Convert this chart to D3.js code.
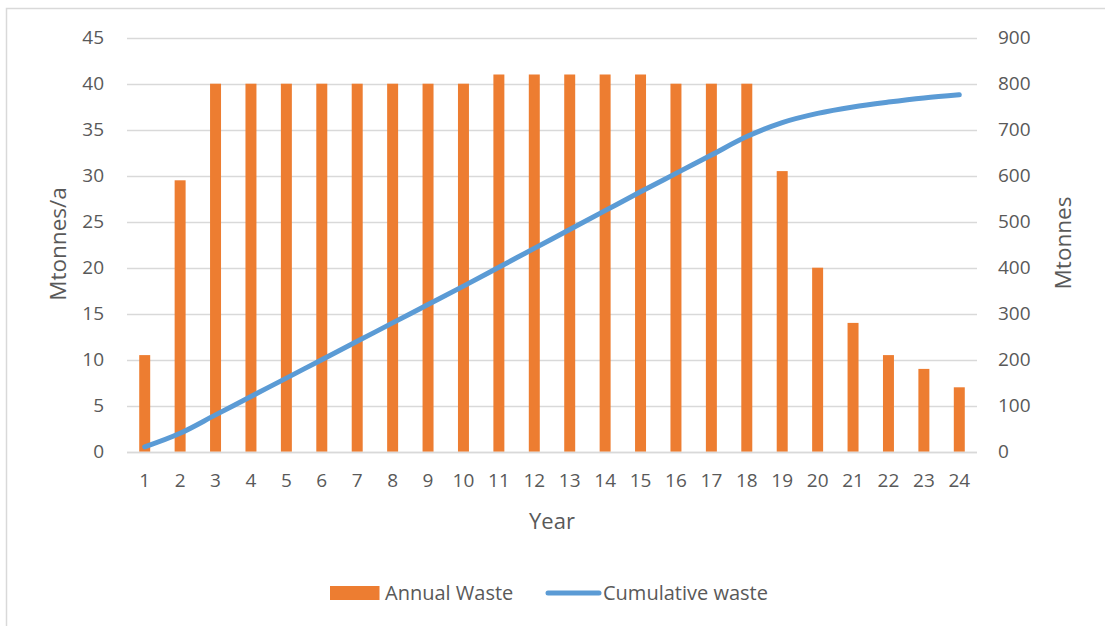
<!DOCTYPE html>
<html>
<head>
<meta charset="utf-8">
<script src="https://cdn.jsdelivr.net/npm/d3@7"></script>
<style>
  html, body { margin: 0; padding: 0; background: #fff; }
  svg { display: block; font-family: "Open Sans", "Noto Sans", sans-serif; }
</style>
</head>
<body>
<svg id="chart" width="1105" height="626"></svg>
<script>
// Waste production by mine year
const years = ["1","2","3","4","5","6","7","8","9","10","11","12","13","14","15","16","17","18","19","20","21","22","23","24"];
const annualWaste = [10.5, 29.5, 40, 40, 40, 40, 40, 40, 40, 40, 41, 41, 41, 41, 41, 40, 40, 40, 30.5, 20, 14, 10.5, 9, 7];
const cumulativeWaste = [10.5, 40, 80, 120, 160, 200, 240, 280, 320, 360, 401, 442, 483, 524, 565, 605, 645, 685, 715.5, 735.5, 749.5, 760, 769, 776];
const leftTicks = [0, 5, 10, 15, 20, 25, 30, 35, 40, 45];
const rightTicks = [0, 100, 200, 300, 400, 500, 600, 700, 800, 900];

const svg = d3.select("#chart");
const textColor = "#595959";
const gridColor = "#d9d9d9";
const barColor = "#ed7d31";
const lineColor = "#5b9bd5";
const tickFont = 19;

// chart frame
svg.append("rect")
  .attr("x", 6.5).attr("y", 8.5)
  .attr("width", 1110).attr("height", 630)
  .attr("fill", "none").attr("stroke", "#d9d9d9").attr("stroke-width", 1.5);

const plot = { left: 127, right: 977, top: 37.7, bottom: 451.7 };

const x = d3.scaleBand().domain(years).range([plot.left, plot.right]).paddingInner(0.69).paddingOuter(0.345);
const yL = d3.scaleLinear().domain([0, 45]).range([plot.bottom, plot.top]);
const yR = d3.scaleLinear().domain([0, 900]).range([plot.bottom, plot.top]);

function styleAxis(g) {
  g.attr("font-family", null).attr("font-size", null);
  g.select(".domain").remove();
  g.selectAll("text").attr("font-size", tickFont).attr("fill", textColor);
}

// horizontal gridlines
svg.append("g").selectAll("line").data(leftTicks).join("line")
  .attr("x1", plot.left).attr("x2", plot.right)
  .attr("y1", d => Math.round(yL(d)) + 0.5).attr("y2", d => Math.round(yL(d)) + 0.5)
  .attr("stroke", gridColor).attr("stroke-width", 1.5);

// left axis labels
svg.append("g").attr("transform", `translate(${plot.left},0)`)
  .call(d3.axisLeft(yL).tickValues(leftTicks).tickSize(0).tickPadding(23))
  .call(styleAxis);

// right axis labels
svg.append("g").attr("transform", `translate(${plot.right},0)`)
  .call(d3.axisRight(yR).tickValues(rightTicks).tickSize(0).tickPadding(21))
  .call(styleAxis);

// annual bars
svg.append("g").selectAll("rect").data(annualWaste).join("rect")
  .attr("x", (d, i) => x(years[i]))
  .attr("width", x.bandwidth())
  .attr("y", d => yL(d))
  .attr("height", d => yL(0) - yL(d))
  .attr("fill", barColor);

// bottom axis
svg.append("g").attr("transform", `translate(0,${plot.bottom})`)
  .call(d3.axisBottom(x).tickSize(0).tickPadding(22))
  .call(styleAxis);

// baseline
svg.append("line")
  .attr("x1", plot.left).attr("x2", plot.right)
  .attr("y1", Math.round(plot.bottom) + 0.5).attr("y2", Math.round(plot.bottom) + 0.5)
  .attr("stroke", gridColor).attr("stroke-width", 1.5);

// cumulative line
const line = d3.line()
  .x((d, i) => x(years[i]) + x.bandwidth() / 2)
  .y(d => yR(d))
  .curve(d3.curveMonotoneX);
svg.append("path").datum(cumulativeWaste)
  .attr("d", line)
  .attr("fill", "none").attr("stroke", lineColor)
  .attr("stroke-width", 5).attr("stroke-linecap", "round").attr("stroke-linejoin", "round");

// axis titles
svg.append("text").attr("transform", "translate(66,244) rotate(-90)")
  .attr("text-anchor", "middle").attr("font-size", 22.5).attr("fill", textColor).text("Mtonnes/a");
svg.append("text").attr("transform", "translate(1071,243) rotate(-90)")
  .attr("text-anchor", "middle").attr("font-size", 22.5).attr("fill", textColor).text("Mtonnes");
svg.append("text").attr("x", 552).attr("y", 529)
  .attr("text-anchor", "middle").attr("font-size", 22).attr("fill", textColor).text("Year");

// legend
const legend = svg.append("g");
legend.append("rect").attr("x", 330).attr("y", 586).attr("width", 49.5).attr("height", 14).attr("fill", barColor);
legend.append("text").attr("x", 385).attr("y", 600).attr("font-size", 20).attr("fill", textColor).text("Annual Waste");
legend.append("line").attr("x1", 548).attr("x2", 599).attr("y1", 593).attr("y2", 593)
  .attr("stroke", lineColor).attr("stroke-width", 5).attr("stroke-linecap", "round");
legend.append("text").attr("x", 603).attr("y", 600).attr("font-size", 20).attr("fill", textColor).text("Cumulative waste");
</script>
</body>
</html>
